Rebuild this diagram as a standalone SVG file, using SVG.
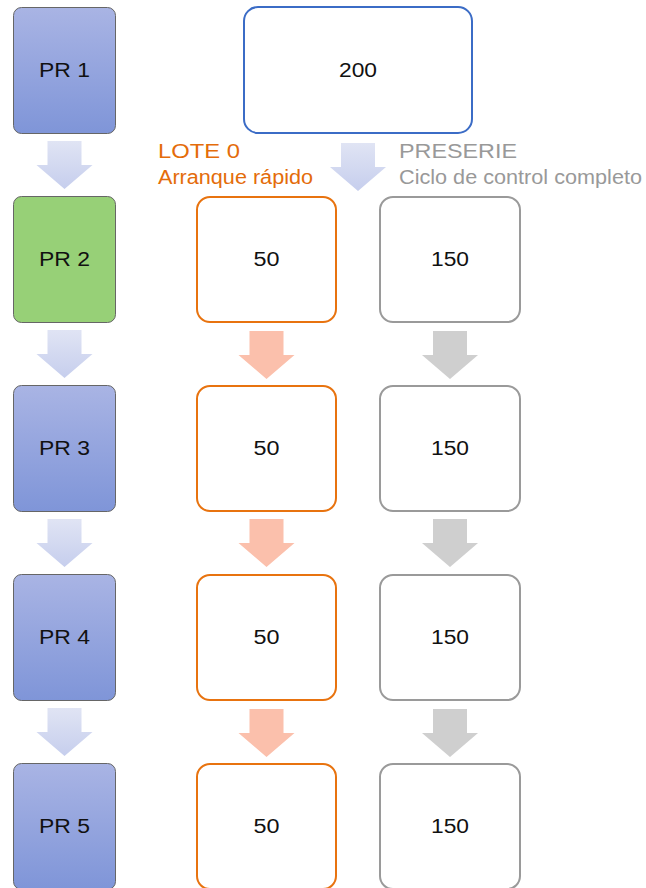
<svg xmlns="http://www.w3.org/2000/svg" width="646" height="888" viewBox="0 0 646 888">
  <defs>
    <linearGradient id="prFill" x1="0" y1="0" x2="0" y2="1">
      <stop offset="0" stop-color="#a9b4e4"/>
      <stop offset="1" stop-color="#7f95d8"/>
    </linearGradient>
    <linearGradient id="blueArrow" x1="0" y1="0" x2="0" y2="1">
      <stop offset="0" stop-color="#e0e4f4"/>
      <stop offset="1" stop-color="#c6ceed"/>
    </linearGradient>
    <!-- block arrow pointing down, 46 tall, origin at top centre -->
    <path id="blockArrow" d="M-17,0 H17 V24 H28 L0,48 L-28,24 H-17 Z"/>
  </defs>
  <style>
    .pr { fill: url(#prFill); stroke: #666; stroke-width: 1; }
    .prGreen { fill: #97d077; stroke: #666; stroke-width: 1; }
    .total { fill: #fff; stroke: #3b6cc6; stroke-width: 2; }
    .lote { fill: #fff; stroke: #e8730f; stroke-width: 2; }
    .pre { fill: #fff; stroke: #9a9a9a; stroke-width: 2; }
    .lbl { font-family: "Liberation Sans", Arial, sans-serif; font-size: 20px; fill: #111; text-anchor: middle; }
    .head { font-family: "Liberation Sans", Arial, sans-serif; font-size: 20px; }
    .orange { fill: #e46c0a; }
    .grey { fill: #999; }
    .aBlue { fill: url(#blueArrow); }
    .aOrange { fill: #fbc0ac; }
    .aGrey { fill: #cfcfcf; }
  </style>

  <!-- process steps -->
  <g id="pr1"><rect class="pr" x="13.5" y="7.5" width="102" height="126" rx="8"/><text class="lbl" x="64.5" y="77" textLength="51" lengthAdjust="spacingAndGlyphs">PR 1</text></g>
  <g id="pr2"><rect class="prGreen" x="13.5" y="196.5" width="102" height="126" rx="8"/><text class="lbl" x="64.5" y="266" textLength="51" lengthAdjust="spacingAndGlyphs">PR 2</text></g>
  <g id="pr3"><rect class="pr" x="13.5" y="385.5" width="102" height="126" rx="8"/><text class="lbl" x="64.5" y="455" textLength="51" lengthAdjust="spacingAndGlyphs">PR 3</text></g>
  <g id="pr4"><rect class="pr" x="13.5" y="574.5" width="102" height="126" rx="8"/><text class="lbl" x="64.5" y="644" textLength="51" lengthAdjust="spacingAndGlyphs">PR 4</text></g>
  <g id="pr5"><rect class="pr" x="13.5" y="763.5" width="102" height="126" rx="8"/><text class="lbl" x="64.5" y="833" textLength="51" lengthAdjust="spacingAndGlyphs">PR 5</text></g>

  <!-- total quantity -->
  <g id="total"><rect class="total" x="244" y="7" width="228" height="126" rx="14"/><text class="lbl" x="358" y="77" textLength="38" lengthAdjust="spacingAndGlyphs">200</text></g>

  <!-- column headings -->
  <g id="heading-lote">
    <text class="head orange" x="158" y="158" textLength="82" lengthAdjust="spacingAndGlyphs">LOTE 0</text>
    <text class="head orange" x="158" y="184" textLength="155" lengthAdjust="spacingAndGlyphs">Arranque rápido</text>
  </g>
  <g id="heading-preserie">
    <text class="head grey" x="399" y="158" textLength="118" lengthAdjust="spacingAndGlyphs">PRESERIE</text>
    <text class="head grey" x="399" y="184" textLength="243" lengthAdjust="spacingAndGlyphs">Ciclo de control completo</text>
  </g>

  <!-- lote 0 batches -->
  <g id="lote1"><rect class="lote" x="197" y="197" width="139" height="125" rx="13"/><text class="lbl" x="266.5" y="266" textLength="26" lengthAdjust="spacingAndGlyphs">50</text></g>
  <g id="lote2"><rect class="lote" x="197" y="386" width="139" height="125" rx="13"/><text class="lbl" x="266.5" y="455" textLength="26" lengthAdjust="spacingAndGlyphs">50</text></g>
  <g id="lote3"><rect class="lote" x="197" y="575" width="139" height="125" rx="13"/><text class="lbl" x="266.5" y="644" textLength="26" lengthAdjust="spacingAndGlyphs">50</text></g>
  <g id="lote4"><rect class="lote" x="197" y="764" width="139" height="125" rx="13"/><text class="lbl" x="266.5" y="833" textLength="26" lengthAdjust="spacingAndGlyphs">50</text></g>

  <!-- preserie batches -->
  <g id="pre1"><rect class="pre" x="380" y="197" width="140" height="125" rx="13"/><text class="lbl" x="450" y="266" textLength="38" lengthAdjust="spacingAndGlyphs">150</text></g>
  <g id="pre2"><rect class="pre" x="380" y="386" width="140" height="125" rx="13"/><text class="lbl" x="450" y="455" textLength="38" lengthAdjust="spacingAndGlyphs">150</text></g>
  <g id="pre3"><rect class="pre" x="380" y="575" width="140" height="125" rx="13"/><text class="lbl" x="450" y="644" textLength="38" lengthAdjust="spacingAndGlyphs">150</text></g>
  <g id="pre4"><rect class="pre" x="380" y="764" width="140" height="125" rx="13"/><text class="lbl" x="450" y="833" textLength="38" lengthAdjust="spacingAndGlyphs">150</text></g>

  <!-- connectors -->
  <g id="connectors">
    <use href="#blockArrow" class="aBlue" transform="translate(64.5,141)"/>
    <use href="#blockArrow" class="aBlue" transform="translate(64.5,330)"/>
    <use href="#blockArrow" class="aBlue" transform="translate(64.5,519)"/>
    <use href="#blockArrow" class="aBlue" transform="translate(64.5,708)"/>

    <use href="#blockArrow" class="aBlue" transform="translate(358,143)"/>

    <use href="#blockArrow" class="aOrange" transform="translate(266.5,331)"/>
    <use href="#blockArrow" class="aOrange" transform="translate(266.5,519)"/>
    <use href="#blockArrow" class="aOrange" transform="translate(266.5,709)"/>

    <use href="#blockArrow" class="aGrey" transform="translate(450,331)"/>
    <use href="#blockArrow" class="aGrey" transform="translate(450,519)"/>
    <use href="#blockArrow" class="aGrey" transform="translate(450,709)"/>
  </g>
</svg>
